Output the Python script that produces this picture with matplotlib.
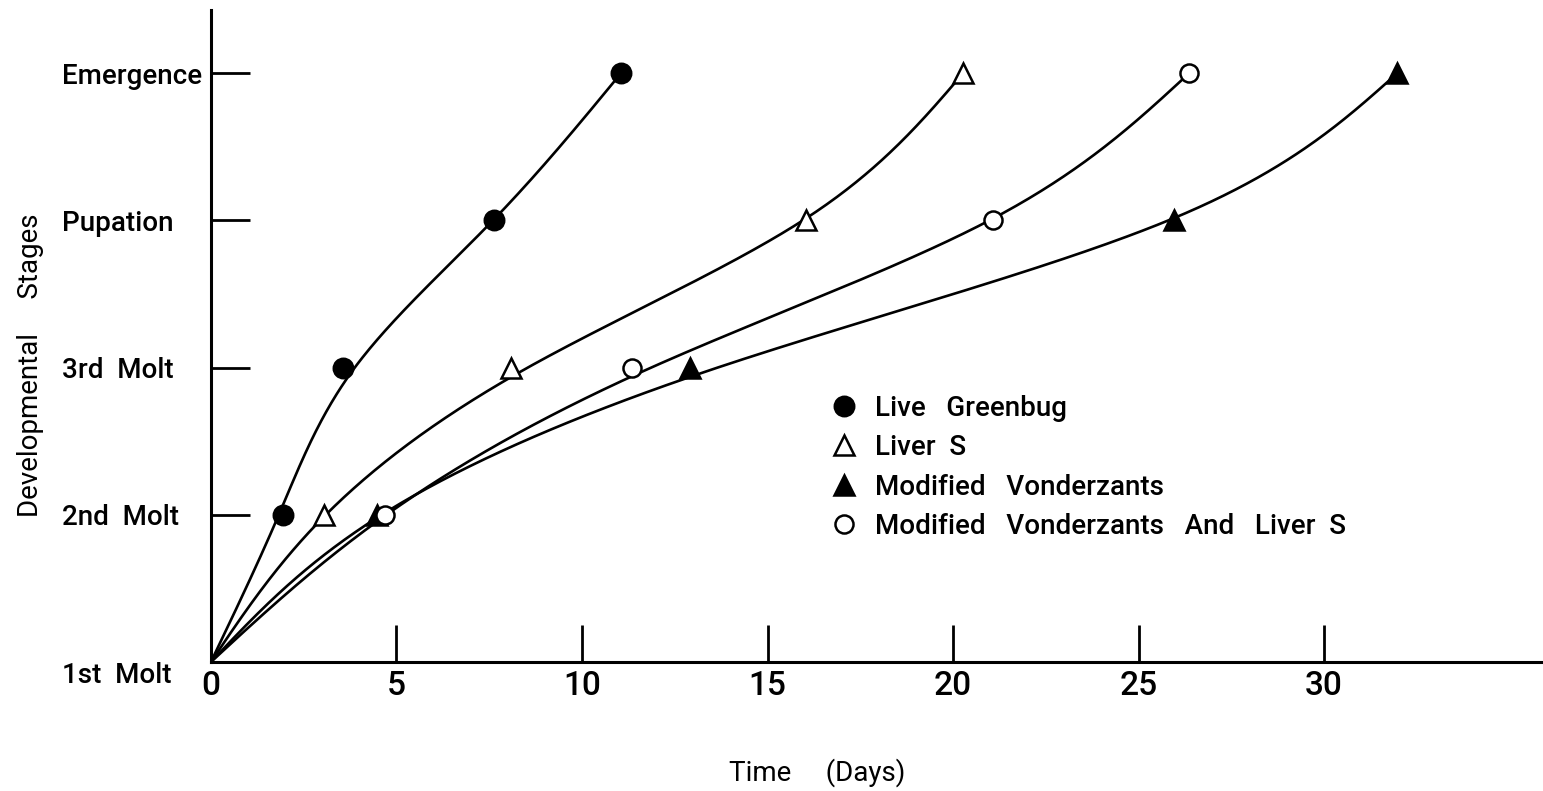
import numpy as np
import matplotlib
matplotlib.use("Agg")
import matplotlib.pyplot as plt

plt.rcParams['font.family'] = ['Roboto', 'DejaVu Sans']
plt.rcParams['font.weight'] = 'medium'

# developmental stages (y positions 0..4)
stages = ["1st  Molt", "2nd  Molt", "3rd  Molt", "Pupation", "Emergence"]
stage_idx = [0, 1, 2, 3, 4]

# days to reach each stage
live_greenbug = [0, 1.94, 3.56, 7.63, 11.05]
liver_s = [0, 3.05, 8.09, 16.04, 20.27]
mod_vonderzants = [0, 4.47, 12.91, 25.96, 31.97]
mod_vond_liver = [0, 4.69, 11.35, 21.08, 26.36]

x_ticks = [0, 5, 10, 15, 20, 25, 30]

# how tightly the drawn curve follows each stage's point
fit_weight = [1000.0, 1.0, 0.7, 5.0, 1000.0]


def smooth_curve(yk, xk, lam=0.03, step=0.01):
    # hand-drawn look: smoothing cubic x(y), both ends held fixed
    ys = np.arange(yk[0], yk[-1] + step / 2, step)
    n = len(ys)
    W = np.zeros(n)
    target = np.zeros(n)
    for i, (y, x) in enumerate(zip(yk, xk)):
        j = int(round((y - ys[0]) / step))
        W[j] = fit_weight[i]
        target[j] = x
    D = np.diff(np.eye(n), 2, axis=0)
    A = np.diag(W) + (lam / step**3) * D.T @ D
    xs = np.linalg.solve(A, W * target)
    return xs, ys


fig = plt.figure(figsize=(15.43, 7.91), dpi=100)
ax = fig.add_axes([0.1367, 0.1631, 0.8633, 0.8242])

series = [
    (live_greenbug, 'o', 'black', "Live   Greenbug", 14),
    (liver_s, '^', 'white', "Liver  S", 15),
    (mod_vonderzants, '^', 'black', "Modified   Vonderzants", 15),
    (mod_vond_liver, 'o', 'white', "Modified   Vonderzants   And   Liver  S", 13),
]

handles = []
for xs_data, mk, fc, label, ms in series:
    cx, cy = smooth_curve(stage_idx, xs_data)
    ax.plot(cx, cy, color='black', lw=1.9, zorder=2)
    h, = ax.plot(xs_data[1:], stage_idx[1:], linestyle='none', marker=mk,
                 markersize=ms, markerfacecolor=fc, markeredgecolor='black',
                 markeredgewidth=1.8, zorder=3, label=label)
    handles.append(h)

ax.set_xlim(0, 35.9)
ax.set_ylim(0, 4.43)

for s in ['top', 'right']:
    ax.spines[s].set_visible(False)
for s in ['left', 'bottom']:
    ax.spines[s].set_linewidth(2.2)

ax.set_xticks(x_ticks)
ax.set_xticklabels([str(v) for v in x_ticks], fontsize=24)
ax.tick_params(axis='x', direction='in', length=27, width=2, pad=6)

ax.set_yticks(stage_idx)
ax.set_yticklabels(stages, fontsize=20, ha='left')
ax.tick_params(axis='y', direction='in', length=28, width=2, pad=107)
# first label sits a little lower in the original
ax.get_yticklabels()[0].set_va('top')

ax.set_xlabel("Time     (Days)", fontsize=20, va='top')
ax.xaxis.set_label_coords(0.455, -0.147)
ax.set_ylabel("Developmental     Stages", fontsize=20)
ax.yaxis.set_label_coords(-0.125, 0.455)

ax.legend(handles=handles, loc='upper left', bbox_to_anchor=(0.4505, 0.44),
          frameon=False, fontsize=20, handlelength=1.0, handletextpad=0.6,
          labelspacing=0.45, borderpad=0.2, numpoints=1)

fig.savefig("out.png", dpi=100)
